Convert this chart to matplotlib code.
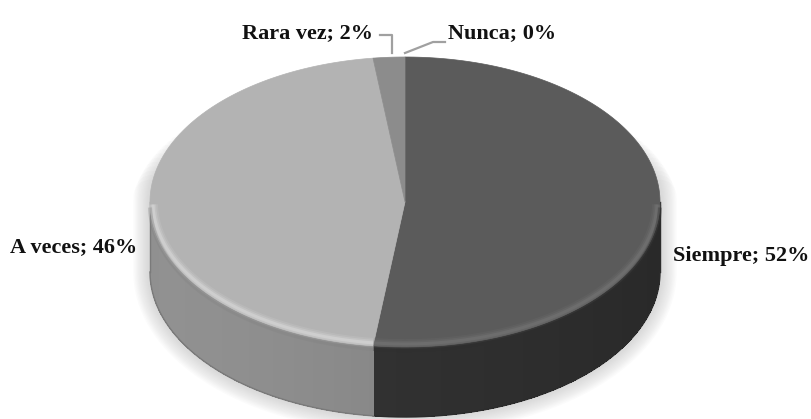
import numpy as np
import matplotlib
matplotlib.use("Agg")
import matplotlib.pyplot as plt
from matplotlib.patches import Polygon

# data
labels = ["Siempre", "A veces", "Rara vez", "Nunca"]
values = [52, 46, 2, 0]
top_colors = ["#5b5b5b", "#b3b3b3", "#8c8c8c", "#707070"]
side_colors = ["#2e2e2e", "#808080", "#6e6e6e", "#505050"]
rim_colors = ["#747474", "#d8d8d8", "#a8a8a8", "#888888"]

# geometry of the 3d pie, in pixels
cx, cy = 405, 202
rx, ry = 255, 145
depth = 70


def pt(theta, dy=0, shrink=0):
    # theta in degrees, clockwise from 12 o'clock
    t = np.radians(theta)
    return cx + (rx - shrink) * np.sin(t), cy - (ry - shrink) * np.cos(t) + dy


fig = plt.figure(figsize=(8.11, 4.19), dpi=100)
ax = fig.add_axes([0, 0, 1, 1])
ax.set_xlim(0, 811)
ax.set_ylim(419, 0)
ax.axis("off")

# soft shadow around the sides and the bottom of the disc (tapered ends)
for w in range(24, 0, -2):
    k = 30 * (1 - w / 26.0)
    path = [pt(t) for t in np.linspace(90 - k, 90, 20)]
    path += [pt(t, depth) for t in np.linspace(90, 270, 200)]
    path += [pt(t) for t in np.linspace(270, 270 + k, 20)]
    ax.plot([p[0] for p in path], [p[1] for p in path], color="#b8b8b8", lw=w,
            alpha=0.05, solid_capstyle="round", solid_joinstyle="round", zorder=1)

total = sum(values)
starts = np.cumsum([0] + values[:-1]) / total * 360
ends = np.cumsum(values) / total * 360


def shade(hexc, f):
    c = np.array(matplotlib.colors.to_rgb(hexc)) * f
    return np.clip(c, 0, 1)


# side walls (front half only)
for i in range(len(values)):
    a0, a1 = max(starts[i], 90), min(ends[i], 270)
    if a1 <= a0:
        continue
    ts = np.linspace(a0, a1, max(int((a1 - a0) * 2), 2))
    for t0, t1 in zip(ts[:-1], ts[1:]):
        tm = 0.5 * (t0 + t1)
        f = 1 - 0.12 * np.sin(np.radians(tm)) - 0.05 * np.cos(np.radians(tm))
        quad = [pt(t0), pt(t1 + 0.3), pt(t1 + 0.3, depth), pt(t0, depth)]
        ax.add_patch(Polygon(quad, closed=True, fc=shade(side_colors[i], f),
                             ec="none", antialiased=False, zorder=2))
    # smooth outer edges
    bx = [pt(t, depth)[0] for t in ts]
    by = [pt(t, depth)[1] for t in ts]
    ax.plot(bx, by, color=shade(side_colors[i], 0.95), lw=1, zorder=2)

# left and right vertical edges
for t in (90, 270):
    i = 0 if t == 90 else 1
    x0, y0 = pt(t)
    ax.plot([x0, x0], [y0, y0 + depth], color=shade(side_colors[i], 0.95), lw=1, zorder=2)

# top faces
for i in range(len(values)):
    if values[i] == 0:
        continue
    ts = np.linspace(starts[i], ends[i], 200)
    poly = [(cx, cy)] + [pt(t) for t in ts]
    ax.add_patch(Polygon(poly, closed=True, fc=top_colors[i], ec=top_colors[i],
                         lw=0.5, zorder=3))

# rounded bevel highlight on the front rim
for i in range(len(values)):
    a0, a1 = max(starts[i], 91), min(ends[i], 269)
    if a1 <= a0:
        continue
    ts = np.linspace(a0, a1, 200)
    xs = [pt(t, 0, 3)[0] for t in ts]
    ys = [pt(t, 0, 3)[1] for t in ts]
    for lw, al in ((7, 0.18), (4.5, 0.3), (2.2, 0.55)):
        ax.plot(xs, ys, color=rim_colors[i], lw=lw, alpha=al,
                solid_capstyle="butt", zorder=4)
    xs = [pt(t, 3)[0] for t in ts]
    ys = [pt(t, 3)[1] for t in ts]
    ax.plot(xs, ys, color=side_colors[i], lw=3, alpha=0.3,
            solid_capstyle="butt", zorder=4)

# labels
font = dict(family="Liberation Serif", weight="bold", size=16, color="#111111")
ax.text(673, 261, "%s; %d%%" % (labels[0], values[0]), ha="left", va="baseline", **font)
ax.text(137, 252, "%s; %d%%" % (labels[1], values[1]), ha="right", va="baseline", **font)
ax.text(373, 38, "%s; %d%%" % (labels[2], values[2]), ha="right", va="baseline", **font)
ax.text(448, 38, "%s; %d%%" % (labels[3], values[3]), ha="left", va="baseline", **font)

# leader lines for the small slices
mid_rv = 0.5 * (starts[2] + ends[2])
x_rv, y_rv = pt(mid_rv)
ax.plot([380, x_rv + 3, x_rv + 3], [35, 35, y_rv - 4], color="#a0a0a0", lw=1.6, zorder=5)
x_nu, y_nu = pt(starts[3])
ax.plot([x_nu, 433, 445], [y_nu - 4, 42, 42], color="#a0a0a0", lw=1.6, zorder=5)

fig.savefig("out.png", dpi=100, facecolor="white")
